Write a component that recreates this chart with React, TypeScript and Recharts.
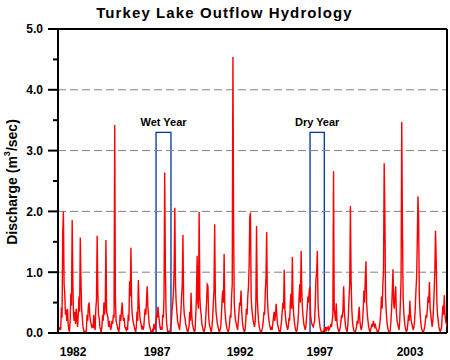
import React from "react";
import { LineChart, Line, XAxis, YAxis, ReferenceLine, ReferenceArea } from "recharts";

// Discharge (m3/sec), 24 samples per year, starting Jan 1981
const startYear = 1981;
const samplesPerYear = 24;
const q1981 = [0.08,0.05,0.06,0.1,0.05,0.42,0.25,1.63,2.0,0.8,0.65,0.3,0.38,0.2,0.4,0.15,0.05,0.02,0.2,0.65,0.45,1.86,0.82,0.3];
const q1982 = [0.2,0.35,0.15,0.4,0.25,0.1,0.3,0.6,0.35,1.57,0.87,0.4,0.25,0.1,0.05,0.0,0.02,0.0,0.05,0.3,0.2,0.45,0.5,0.3];
const q1983 = [0.2,0.15,0.1,0.12,0.08,0.3,0.12,0.05,0.4,0.55,1.6,0.65,0.3,0.25,0.1,0.05,0.02,0.1,0.3,0.2,0.5,0.3,0.45,1.53];
const q1984 = [0.35,0.3,0.25,0.1,0.2,0.12,0.05,0.1,0.2,0.15,0.3,0.25,3.42,0.55,0.2,0.15,0.1,0.05,0.02,0.1,0.3,0.2,0.35,0.5];
const q1985 = [0.3,0.2,0.25,0.1,0.08,0.05,0.1,0.05,0.3,0.2,0.85,0.6,1.4,0.5,0.3,0.2,0.15,0.1,0.05,0.02,0.1,0.35,0.2,0.87];
const q1986 = [0.5,0.3,0.2,0.15,0.08,0.1,0.05,0.1,0.25,0.4,0.3,0.5,0.77,0.45,0.3,0.15,0.1,0.05,0.0,0.02,0.05,0.02,0.15,0.1];
const q1987 = [0.05,0.2,0.3,0.25,0.43,0.3,0.2,0.1,0.05,0.1,0.05,0.3,0.25,0.6,2.64,1.08,0.35,0.15,0.05,0.0,0.02,0.0,0.05,0.1];
const q1988 = [0.2,0.4,0.5,0.7,1.05,2.06,0.8,0.5,0.35,0.2,0.15,0.1,0.05,0.2,0.35,0.6,0.8,1.61,0.5,0.3,0.25,0.15,0.1,0.05];
const q1989 = [0.02,0.05,0.1,0.35,0.2,0.66,0.3,0.15,0.1,0.05,0.02,0.05,0.3,0.6,1.27,0.5,0.4,1.99,0.6,0.4,0.3,0.15,0.1,0.05];
const q1990 = [0.02,0.05,0.1,0.3,0.5,0.8,0.78,0.3,0.15,0.1,0.05,0.02,0.1,0.25,0.5,0.7,1.79,0.6,0.35,0.25,0.15,0.1,0.05,0.02];
const q1991 = [0.05,0.1,0.3,0.55,0.7,0.5,1.3,0.4,0.25,0.15,0.08,0.05,0.02,0.05,0.15,0.3,0.25,0.6,0.8,4.54,1.77,0.5,0.3,0.2];
const q1992 = [0.15,0.1,0.05,0.2,0.35,0.5,0.45,0.7,0.35,0.2,0.1,0.05,0.02,0.05,0.2,0.4,0.3,0.6,0.75,1.1,1.9,1.98,0.6,0.4];
const q1993 = [0.3,0.2,0.15,0.1,0.2,0.5,1.76,0.6,0.35,0.2,0.1,0.05,0.02,0.0,0.05,0.1,0.2,0.35,0.3,0.7,0.9,1.66,0.6,0.35];
const q1994 = [0.25,0.15,0.1,0.05,0.1,0.05,0.15,0.25,0.35,0.2,0.3,0.48,0.3,0.15,0.1,0.05,0.0,0.02,0.1,0.2,0.35,0.5,0.4,1.04];
const q1995 = [0.4,0.25,0.15,0.1,0.05,0.1,0.25,0.2,0.5,0.65,0.4,1.25,0.5,0.3,0.2,0.1,0.05,0.02,0.05,0.15,0.3,0.6,0.8,0.5];
const q1996 = [1.35,0.7,0.4,0.25,0.15,0.1,0.05,0.1,0.25,0.4,0.6,0.5,0.7,0.76,0.3,0.2,0.15,0.12,0.1,0.15,0.2,0.5,0.9,1.0];
const q1997 = [1.35,0.5,0.3,0.2,0.1,0.05,0.02,0.0,0.02,0.0,0.05,0.08,0.05,0.1,0.05,0.08,0.1,0.05,0.08,0.1,0.15,0.1,0.2,0.3];
const q1998 = [2.66,0.4,0.3,0.2,0.49,0.2,0.1,0.05,0.02,0.05,0.1,0.2,0.3,0.25,0.4,0.77,0.35,0.2,0.1,0.05,0.02,0.1,0.3,0.6];
const q1999 = [0.8,2.09,0.87,0.4,0.2,0.1,0.05,0.02,0.0,0.05,0.1,0.2,0.15,0.3,0.43,0.2,0.1,0.05,0.1,0.2,0.4,0.7,0.5,0.9];
const q2000 = [1.18,0.5,0.3,0.2,0.1,0.05,0.02,0.05,0.1,0.15,0.1,0.2,0.15,0.1,0.13,0.08,0.05,0.02,0.0,0.05,0.1,0.2,0.35,0.6];
const q2001 = [0.4,0.8,1.0,2.79,1.97,0.6,0.35,0.2,0.1,0.05,0.02,0.0,0.05,0.2,0.4,0.7,1.05,0.5,0.4,0.6,0.77,0.35,0.2,0.15];
const q2002 = [0.1,0.05,0.2,0.5,0.9,3.47,1.79,0.6,0.35,0.2,0.1,0.05,0.02,0.05,0.15,0.3,0.2,0.53,0.3,0.2,0.15,0.1,0.05,0.1];
const q2003 = [0.2,0.4,0.7,0.9,1.5,2.25,1.9,0.6,0.35,0.2,0.1,0.05,0.02,0.0,0.05,0.1,0.2,0.3,0.25,0.4,0.6,0.5,0.84,0.4];
const q2004 = [0.3,0.2,0.1,0.2,0.4,0.7,1.0,1.68,1.2,0.5,0.3,0.2,0.1,0.05,0.02,0.05,0.1,0.3,0.45,0.3,0.62,0.3,0.2,0.15];
const qFinal = [0.1];

const yearlySeries = [q1981,q1982,q1983,q1984,q1985,q1986,q1987,q1988,q1989,q1990,q1991,q1992,q1993,q1994,q1995,q1996,q1997,q1998,q1999,q2000,q2001,q2002,q2003,q2004,qFinal];

const xDomain = [1981, 2005];
const xTickPositions = [1981.93, 1987.11, 1992.23, 1997.16, 2002.72];
const xTickLabels = ["1982", "1987", "1992", "1997", "2003"];
const yTicks = [0, 0.5, 1, 1.5, 2, 2.5, 3, 3.5, 4, 4.5, 5];
const gridValues = [1, 2, 3, 4];
const wetYear = [1987.05, 1987.97];
const dryYear = [1996.55, 1997.43];
const boxTop = 3.3;

const data = yearlySeries.flat().map((v, i) => ({ t: startYear + i / samplesPerYear, v }));

const FONT = "'Liberation Sans', Arial, sans-serif";

const YTick = (props: any) => {
  const { x, y, payload } = props;
  const v = payload.value as number;
  const major = Math.abs(v - Math.round(v)) < 1e-6;
  return (
    <g>
      <line x1={x - (major ? 10 : 5)} x2={x} y1={y} y2={y} stroke="#000" strokeWidth={2} />
      {major && (
        <text x={x - 15} y={y} dy="0.36em" textAnchor="end" fontFamily={FONT} fontWeight="bold" fontSize={12} fill="#000">
          {v.toFixed(1)}
        </text>
      )}
    </g>
  );
};

export default function App() {
  return (
    <div style={{ position: "absolute", left: 0, top: 0, width: 450, height: 360, background: "#fff" }}>
      <LineChart width={450} height={360} data={data} margin={{ top: 29, right: 3, bottom: 0, left: 0 }}>
        {gridValues.map((g) => (
          <ReferenceLine key={g} y={g} stroke="#808080" strokeDasharray="8 4" strokeWidth={1} />
        ))}
        <ReferenceLine y={5} stroke="#000" strokeWidth={2} />
        <ReferenceLine x={xDomain[1]} stroke="#000" strokeWidth={2} />
        <XAxis
          type="number"
          dataKey="t"
          domain={xDomain}
          ticks={xTickPositions}
          interval={0}
          tickFormatter={(_v: number, i: number) => xTickLabels[i]}
          tickLine={false}
          tickSize={0}
          tickMargin={14}
          height={27}
          axisLine={{ stroke: "#000", strokeWidth: 2 }}
          tick={{ fill: "#000", fontSize: 12, fontWeight: "bold", fontFamily: FONT }}
          allowDataOverflow
        />
        <YAxis
          type="number"
          domain={[0, 5]}
          ticks={yTicks}
          interval={0}
          width={58}
          tickLine={false}
          tickSize={0}
          tickMargin={0}
          axisLine={{ stroke: "#000", strokeWidth: 2 }}
          tick={<YTick />}
          allowDataOverflow
        />
        <Line type="linear" dataKey="v" stroke="#ff0000" strokeWidth={1.4} dot={false} isAnimationActive={false} />
        <ReferenceArea
          x1={wetYear[0]}
          x2={wetYear[1]}
          y1={0}
          y2={boxTop}
          fill="none"
          fillOpacity={0}
          stroke="#0033a0"
          strokeWidth={1.3}
          label={{ value: "Wet Year", position: "top", offset: 6, fill: "#000", fontSize: 11, fontWeight: "bold", fontFamily: FONT }}
        />
        <ReferenceArea
          x1={dryYear[0]}
          x2={dryYear[1]}
          y1={0}
          y2={boxTop}
          fill="none"
          fillOpacity={0}
          stroke="#0033a0"
          strokeWidth={1.3}
          label={{ value: "Dry Year", position: "top", offset: 6, fill: "#000", fontSize: 11, fontWeight: "bold", fontFamily: FONT }}
        />
      </LineChart>
      <svg width={450} height={360} style={{ position: "absolute", left: 0, top: 0, pointerEvents: "none" }}>
        <text x={224.5} y={17.5} textAnchor="middle" fontFamily={FONT} fontWeight="bold" fontSize={15} letterSpacing={1.1} fill="#000">
          Turkey Lake Outflow Hydrology
        </text>
        <text
          x={12}
          y={182}
          transform="rotate(-90, 12, 182)"
          textAnchor="middle"
          dominantBaseline="central"
          fontFamily={FONT}
          fontWeight="bold"
          fontSize={14}
          fill="#000"
        >
          Discharge (m<tspan dy={-5} fontSize={9}>3</tspan><tspan dy={5}>/sec)</tspan>
        </text>
      </svg>
    </div>
  );
}
